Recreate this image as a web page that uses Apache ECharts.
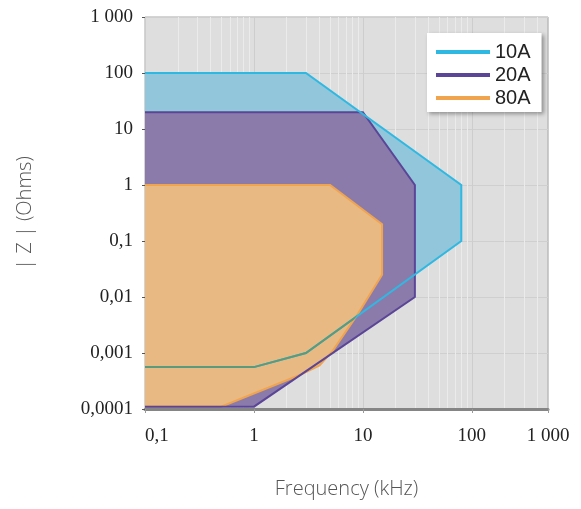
<!DOCTYPE html>
<html>
<head>
<meta charset="utf-8">
<script src="https://cdn.jsdelivr.net/npm/echarts@6/dist/echarts.min.js"></script>
<style>
  html, body { margin: 0; padding: 0; background: #fff; }
  #main { width: 581px; height: 509px; }
</style>
</head>
<body>
<div id="main"></div>
<script>
// tick labels, indexed by decade exponent
const xTickLabels = ['0,1', '1', '10', '100', '1 000'];        // 10^-1 .. 10^3
const yTickLabels = ['0,0001', '0,001', '0,01', '0,1', '1', '10', '100', '1 000']; // 10^-4 .. 10^3

const seriesNames = ['10A', '20A', '80A'];

// polygon outlines (frequency kHz, |Z| ohms)
const freq10A = [0.1, 3, 80, 80, 3, 1, 0.1];
const z10A = [100, 100, 1, 0.1, 0.001, 0.00056, 0.00056];

const freq20A = [0.1, 10, 30, 30, 1, 0.1];
const z20A = [20, 20, 1, 0.01, 0.00011, 0.00011];

const freq80A = [0.1, 5, 15, 15, 9, 5.3, 4, 2.6, 0.5, 0.1];
const z80A = [1, 1, 0.2, 0.025, 0.005, 0.0011, 0.0006, 0.0004, 0.00011, 0.00011];

const lineColors = ['#2fb8e2', '#5b4597', '#f0a44e'];
const fillColors = ['#92c6da', '#8b7bab', '#e9b983'];
const seenThroughOrange = '#5a9b7d'; // 10A outline where it runs under the 80A area

const chart = echarts.init(document.getElementById('main'));

function toPoints(xs, ys) {
  return xs.map((x, i) => [x, ys[i]]);
}

const p10 = toPoints(freq10A, z10A);
const p20 = toPoints(freq20A, z20A);
const p80 = toPoints(freq80A, z80A);

function fillSeries(name, pts, fill, z) {
  return {
    type: 'custom',
    name: name,
    z: z,
    data: pts,
    itemStyle: {color: lineColors[seriesNames.indexOf(name)]},
    renderItem: (params, api) => {
      if (params.dataIndex !== 0) return;
      return {
        type: 'polygon',
        shape: {points: pts.map(p => api.coord(p))},
        style: {fill: fill, stroke: null}
      };
    }
  };
}

function lineSeries(name, pts, color, z, tintInside) {
  return {
    type: 'custom',
    name: name,
    z: z,
    data: pts,
    itemStyle: {color: color},
    renderItem: (params, api) => {
      if (params.dataIndex !== 0) return;
      const pixels = pts.map(p => api.coord(p));
      const children = [{
        type: 'polyline',
        shape: {points: pixels},
        style: {fill: null, stroke: color, lineWidth: 2}
      }];
      if (tintInside) {
        children.push({
          type: 'polyline',
          shape: {points: pixels},
          style: {fill: null, stroke: tintInside.color, lineWidth: 2},
          clipPath: {type: 'polygon', shape: {points: tintInside.pts.map(p => api.coord(p))}}
        });
      }
      return {type: 'group', children: children};
    }
  };
}

const option = {
  animation: false,
  backgroundColor: '#fff',
  grid: {
    left: 145, right: 33, top: 17, bottom: 100,
    show: true,
    backgroundColor: '#dedede',
    borderColor: '#a8a8a8',
    borderWidth: 1,
    outerBoundsMode: 'none'
  },
  legend: {
    data: seriesNames,
    orient: 'vertical',
    left: 427,
    top: 33,
    icon: 'rect',
    itemWidth: 54,
    itemHeight: 4,
    itemGap: 3,
    padding: [9, 11, 4, 9],
    backgroundColor: '#fff',
    shadowBlur: 4,
    shadowColor: 'rgba(0,0,0,0.35)',
    shadowOffsetX: 2,
    shadowOffsetY: 2,
    textStyle: {
      fontFamily: '"Liberation Sans Narrow", "Liberation Sans", sans-serif',
      fontSize: 20,
      lineHeight: 19,
      color: '#222'
    }
  },
  xAxis: {
    type: 'log',
    logBase: 10,
    min: 0.1,
    max: 500,
    splitNumber: 4,
    name: 'Frequency (kHz)',
    nameLocation: 'middle',
    nameGap: 70,
    nameTextStyle: {fontFamily: '"Open Sans", sans-serif', fontWeight: 300, fontSize: 20, color: '#555'},
    axisLine: {show: true, lineStyle: {color: '#858585', width: 3}},
    axisTick: {show: true, length: 4, lineStyle: {color: '#999'}},
    axisLabel: {
      margin: 18,
      fontFamily: '"Liberation Serif", serif',
      fontSize: 19,
      color: '#222',
      alignMinLabel: 'left',
      showMinLabel: true,
      showMaxLabel: true,
      formatter: v => xTickLabels[Math.round(Math.log10(v)) + 1]
    },
    splitLine: {show: true, lineStyle: {color: '#cdcdcd', width: 1}},
    minorTick: {show: false, splitNumber: 9},
    minorSplitLine: {show: true, lineStyle: {color: '#ebebeb', width: 1}}
  },
  yAxis: {
    type: 'log',
    logBase: 10,
    min: 0.0001,
    max: 1000,
    splitNumber: 7,
    name: '| Z | (Ohms)',
    nameLocation: 'middle',
    nameGap: 110,
    nameRotate: 90,
    nameTextStyle: {fontFamily: '"Open Sans", sans-serif', fontWeight: 300, fontSize: 20, color: '#555'},
    axisLine: {show: false},
    axisTick: {show: true, length: 3, lineStyle: {color: '#555'}},
    axisLabel: {
      margin: 12,
      fontFamily: '"Liberation Serif", serif',
      fontSize: 19,
      color: '#222',
      formatter: v => yTickLabels[Math.round(Math.log10(v)) + 4]
    },
    splitLine: {show: true, lineStyle: {color: '#cfcfcf', width: 1}}
  },
  series: [
    fillSeries('10A', p10, fillColors[0], 2),
    fillSeries('20A', p20, fillColors[1], 3),
    fillSeries('80A', p80, fillColors[2], 4),
    lineSeries('80A', p80, lineColors[2], 5),
    lineSeries('20A', p20, lineColors[1], 6),
    lineSeries('10A', p10, lineColors[0], 7, {pts: p80, color: seenThroughOrange})
  ]
};

chart.setOption(option);
</script>
</body>
</html>
